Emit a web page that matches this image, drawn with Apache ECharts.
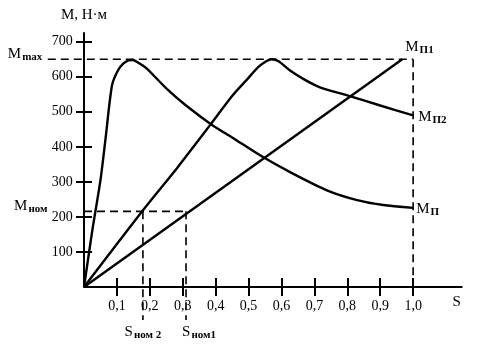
<!DOCTYPE html>
<html>
<head>
<meta charset="utf-8">
<script src="https://cdn.jsdelivr.net/npm/echarts@6/dist/echarts.min.js"></script>
<style>
  html, body { margin: 0; padding: 0; background: #fff; }
  #chart { width: 482px; height: 353px; }
</style>
</head>
<body>
<div id="chart"></div>
<script>
// --- data ---
var xTicks = [0.1, 0.2, 0.3, 0.4, 0.5, 0.6, 0.7, 0.8, 0.9, 1.0];
var yTicks = [100, 200, 300, 400, 500, 600, 700];

// natural characteristic, M_п
var sMp = [0, 0.025, 0.05, 0.065, 0.085, 0.103, 0.12, 0.135, 0.148, 0.165, 0.19, 0.25, 0.31, 0.39, 0.45, 0.54, 0.626, 0.738, 0.83, 0.909, 1.0];
var mMp = [0, 160, 305, 420, 575, 618, 638, 647, 648, 640, 624, 567, 518, 462, 427, 373, 328, 276, 248, 234, 226];

// M_п2 (rotor resistance added)
var sMp2 = [0, 0.179, 0.283, 0.383, 0.45, 0.495, 0.53, 0.555, 0.57, 0.59, 0.626, 0.67, 0.717, 0.8, 0.9, 1.0];
var mMp2 = [0, 219, 340, 462, 545, 592, 628, 645, 650, 645, 618, 592, 570, 547, 518, 490];

// M_п1 (straight)
var sMp1 = [0, 0.967];
var mMp1 = [0, 650];

var mMax = 650, mNom = 216;
var sNom2 = 0.179, sNom1 = 0.31;
var sStart = -0.11, sEnd = 1.15;

function pairs(xs, ys) {
  return xs.map(function (x, i) { return [x, ys[i]]; });
}

var serif = 'Liberation Serif';
var rich = {
  m: { fontFamily: serif, fontSize: 15, color: '#000' },
  sub: { fontFamily: serif, fontSize: 11, fontWeight: 'bold', color: '#000', padding: [6, 0, 0, 1] }
};
function subLabel(main, sub) {
  return '{m|' + main + '}{sub|' + sub + '}';
}

var solid = { color: '#000', width: 2.4 };
var dashed = { color: '#000', width: 1.6, type: [8, 5] };
var hidden = { color: 'rgba(0,0,0,0)' };

function dashSeries(data, lab) {
  var items = data.map(function (p) { return { value: p }; });
  if (lab) {
    items[lab.index].label = {
      show: true, formatter: lab.text, position: lab.position,
      distance: lab.distance, offset: lab.offset, rich: rich
    };
  }
  return {
    type: 'line', data: items, symbol: 'circle', symbolSize: 1, showSymbol: true,
    itemStyle: hidden, clip: false, silent: true, lineStyle: dashed, z: 1
  };
}

var chart = echarts.init(document.getElementById('chart'));
chart.setOption({
  animation: false,
  grid: { left: 47.8, top: 33, width: 414.7, height: 254, containLabel: false },
  xAxis: [{
    type: 'value', min: sStart, max: sEnd, position: 'bottom',
    splitLine: { show: false },
    axisLine: { show: false },
    axisTick: { customValues: xTicks, length: 9, lineStyle: { color: '#000', width: 2 } },
    axisLabel: {
      customValues: xTicks, margin: 12, color: '#000', fontFamily: serif, fontSize: 14,
      formatter: function (v) { return v.toFixed(1).replace('.', ','); }
    },
    name: 'S', nameLocation: 'end', nameGap: -10,
    nameTextStyle: { fontFamily: serif, fontSize: 15, color: '#000', verticalAlign: 'top', align: 'left', padding: [8, 0, 0, 0] }
  }, {
    type: 'value', min: sStart, max: sEnd, position: 'bottom',
    splitLine: { show: false }, axisLine: { show: false }, axisLabel: { show: false },
    axisTick: { customValues: xTicks, inside: true, length: 9, lineStyle: { color: '#000', width: 2 } }
  }],
  yAxis: [{
    type: 'value', min: 0, max: 725, position: 'left',
    splitLine: { show: false },
    axisLine: { onZero: true, onZeroAxisIndex: 0, lineStyle: { color: '#000', width: 2 } },
    axisTick: { customValues: yTicks, length: 8, lineStyle: { color: '#000', width: 2 } },
    axisLabel: { customValues: yTicks, margin: -25, color: '#000', fontFamily: serif, fontSize: 14 },
    name: 'M, Н·м', nameLocation: 'end', nameGap: 10,
    nameTextStyle: { fontFamily: serif, fontSize: 15, color: '#000' }
  }, {
    type: 'value', min: 0, max: 725, position: 'left',
    splitLine: { show: false }, axisLabel: { show: false },
    axisLine: { show: false, onZero: true, onZeroAxisIndex: 0 },
    axisTick: { customValues: yTicks, inside: true, length: 8, lineStyle: { color: '#000', width: 2 } }
  }],
  series: [
    // S axis line, from the origin to the end of the axis
    {
      type: 'line', data: [[0, 0], [sEnd, 0]], symbol: 'none', silent: true,
      lineStyle: { color: '#000', width: 2 }, z: 2
    },
    {
      type: 'line', data: pairs(sMp, mMp), symbol: 'none', smooth: 0.25,
      lineStyle: solid, z: 3,
      endLabel: { show: true, formatter: subLabel('M', 'П'), distance: 3, offset: [0, 1], rich: rich }
    },
    {
      type: 'line', data: pairs(sMp2, mMp2), symbol: 'none', smooth: 0.25,
      lineStyle: solid, z: 3,
      endLabel: { show: true, formatter: subLabel('M', 'П2'), distance: 5, offset: [0, 2], rich: rich }
    },
    {
      type: 'line', data: pairs(sMp1, mMp1), symbol: 'none',
      lineStyle: solid, z: 3,
      endLabel: { show: true, formatter: subLabel('M', 'П1'), distance: 3, offset: [0, -12], rich: rich }
    },
    dashSeries([[sStart, mMax], [1.0, mMax]],
      { index: 0, text: subLabel('M', 'max'), position: 'left', distance: 5, offset: [0, -5] }),
    dashSeries([[1.0, mMax], [1.0, 0]]),
    dashSeries([[0, mNom], [sNom1, mNom]],
      { index: 0, text: subLabel('M', 'ном'), position: 'left', distance: 36, offset: [0, -5] }),
    dashSeries([[sNom2, mNom], [sNom2, -94]],
      { index: 1, text: subLabel('S', 'ном 2'), position: 'bottom', distance: 3, offset: [0, 0] }),
    dashSeries([[sNom1, mNom], [sNom1, -94]],
      { index: 1, text: subLabel('S', 'ном1'), position: 'bottom', distance: 3, offset: [13, 0] })
  ]
});
</script>
</body>
</html>
